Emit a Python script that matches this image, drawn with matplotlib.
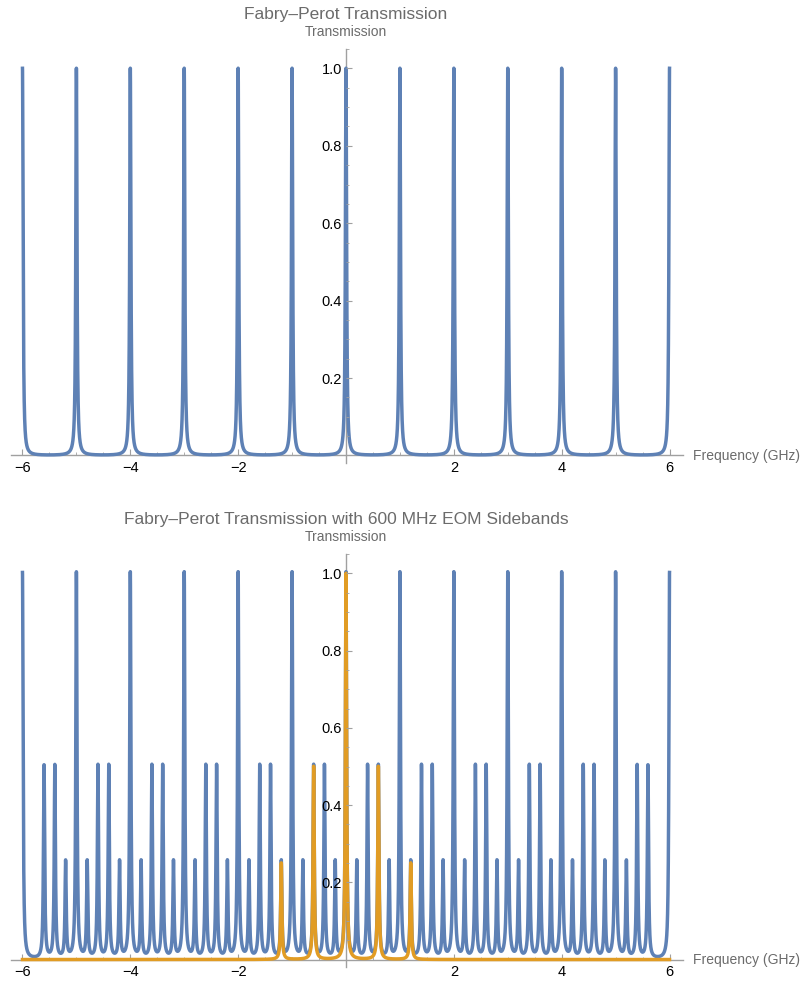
import numpy as np
import matplotlib.pyplot as plt
from matplotlib.ticker import MultipleLocator, FixedLocator

plt.rcParams['font.family'] = ['Liberation Sans', 'DejaVu Sans']

# cavity resonances (GHz), FSR = 1 GHz
modes = np.arange(-6, 7)
# EOM at 600 MHz: carrier + first and second order sidebands
sideband_offsets = [0.0, -0.6, 0.6, -1.2, 1.2]
sideband_powers = [1.0, 0.5, 0.5, 0.25, 0.25]
hwhm = 0.013  # resonance half width (GHz)

xticks = [-6, -4, -2, 2, 4, 6]
xticklabels = ['\u22126', '\u22124', '\u22122', '2', '4', '6']
yticks = [0.2, 0.4, 0.6, 0.8, 1.0]
yticklabels = ['0.2', '0.4', '0.6', '0.8', '1.0']

blue = '#5e81b5'
orange = '#e19c24'
grey = '#a0a0a0'
textgrey = '#6b6b6b'


def lorentz(f, f0, a):
    return a / (1 + ((f - f0) / hwhm) ** 2)


f = np.linspace(-6, 6, 24001)
trans = sum(lorentz(f, m, 1.0) for m in modes)
trans_eom = sum(lorentz(f, m + s, p) for m in modes
                for s, p in zip(sideband_offsets, sideband_powers))
laser = sum(lorentz(f, s, p) for s, p in zip(sideband_offsets, sideband_powers))


def style(ax, title):
    ax.set_xlim(-6.22, 6.25)
    ax.set_ylim(-0.02, 1.051)
    for s in ['top', 'right']:
        ax.spines[s].set_visible(False)
    ax.spines['left'].set_position(('data', 0))
    ax.spines['bottom'].set_position(('data', 0))
    for s in ['left', 'bottom']:
        ax.spines[s].set_color(grey)
        ax.spines[s].set_linewidth(1.0)
    ax.xaxis.set_major_locator(FixedLocator(xticks))
    ax.set_xticklabels(xticklabels)
    ax.xaxis.set_minor_locator(MultipleLocator(0.5))
    ax.yaxis.set_major_locator(FixedLocator(yticks))
    ax.set_yticklabels(yticklabels)
    ax.yaxis.set_minor_locator(MultipleLocator(0.05))
    ax.tick_params(which='both', direction='in', color=grey, labelsize=10.5)
    ax.tick_params(which='major', length=4, width=0.8)
    ax.tick_params(which='minor', length=2.5, width=0.6)
    ax.tick_params(axis='x', pad=4)
    ax.tick_params(axis='y', pad=3)
    ax.yaxis.set_zorder(5)
    ax.set_facecolor('none')
    ax.text(0, 1.127, title, ha='center', va='baseline', fontsize=12.5,
            color=textgrey, clip_on=False)
    ax.text(0, 1.084, 'Transmission', ha='center', va='baseline', fontsize=10,
            color=textgrey, clip_on=False)
    ax.text(6.44, -0.012, 'Frequency (GHz)', ha='left', va='baseline',
            fontsize=10, color=textgrey, clip_on=False)


fig = plt.figure(figsize=(8.04, 9.81), dpi=100)
ax1 = fig.add_axes([0.0132, 0.5278, 0.8363, 0.4226])
ax2 = fig.add_axes([0.0132, 0.0140, 0.8363, 0.4215])

ax1.plot(f, trans, color=blue, lw=2.5, zorder=3)
style(ax1, 'Fabry\u2013Perot Transmission')

ax2.plot(f, trans_eom, color=blue, lw=2.5, zorder=3)
ax2.plot(f, laser, color=orange, lw=2.5, zorder=4)
style(ax2, 'Fabry\u2013Perot Transmission with 600 MHz EOM Sidebands')

fig.savefig('out.png', dpi=100)
